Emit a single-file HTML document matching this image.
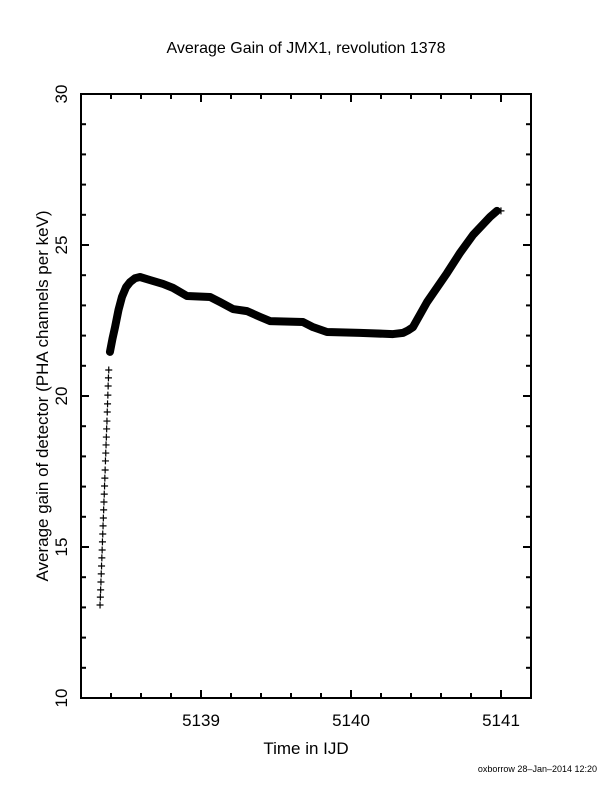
<!DOCTYPE html>
<html><head><meta charset="utf-8"><style>
body{margin:0;background:#fff}
svg text{font-family:"Liberation Sans",sans-serif;fill:#000}
</style></head><body>
<svg id="chart" width="612" height="792" xmlns="http://www.w3.org/2000/svg">
<rect width="612" height="792" fill="#fff"/>
<text x="306" y="53" font-size="16" text-anchor="middle">Average Gain of JMX1, revolution 1378</text>
<text x="0" y="0" font-size="17" text-anchor="middle" transform="translate(48,396) rotate(-90)">Average gain of detector (PHA channels per keV)</text>
<text x="306" y="754" font-size="17" text-anchor="middle">Time in IJD</text>
<text x="597" y="772" font-size="9" text-anchor="end">oxborrow 28–Jan–2014 12:20</text>
<g id="axes"></g>
<g id="marks"></g>
</svg>
<script>
const xTicks=[5139,5140,5141];
const yTicks=[10,15,20,25,30];
const sparseX=[5138.327,5138.329,5138.331,5138.333,5138.335,5138.337,5138.339,5138.341,5138.343,5138.345,5138.347,5138.349,5138.351,5138.353,5138.355,5138.357,5138.359,5138.361,5138.363,5138.365,5138.367,5138.369,5138.371,5138.373,5138.375,5138.377,5138.379,5138.381,5138.383,5138.385];
const sparseY=[13.08,13.34,13.58,13.84,14.11,14.37,14.64,14.90,15.17,15.43,15.70,15.96,16.23,16.49,16.75,17.02,17.28,17.55,17.85,18.11,18.38,18.64,18.91,19.17,19.47,19.74,20.03,20.33,20.60,20.86];
const denseX=[5138.393,5138.41,5138.427,5138.45,5138.473,5138.5,5138.527,5138.56,5138.593,5138.66,5138.747,5138.813,5138.907,5139.06,5139.127,5139.213,5139.307,5139.393,5139.46,5139.68,5139.747,5139.84,5140.06,5140.28,5140.347,5140.38,5140.413,5140.507,5140.64,5140.727,5140.813,5140.927,5140.973];
const denseY=[21.46,21.9,22.28,22.85,23.28,23.6,23.77,23.9,23.94,23.84,23.71,23.58,23.31,23.28,23.11,22.88,22.81,22.62,22.48,22.45,22.28,22.12,22.09,22.05,22.09,22.17,22.28,23.11,24.07,24.74,25.33,25.93,26.13];
const L=81,R=531,T=94,B=698,X0=5138.2,X1=5141.2,Y0=10,Y1=30;
const sx=v=>L+(v-X0)/(X1-X0)*(R-L);
const sy=v=>B-(v-Y0)/(Y1-Y0)*(B-T);
const NS="http://www.w3.org/2000/svg";
const ax=document.getElementById('axes'),mk=document.getElementById('marks');
function mkEl(t,a,p){const e=document.createElementNS(NS,t);for(const k in a)e.setAttribute(k,a[k]);p.appendChild(e);return e;}
const fr=mkEl('rect',{x:L,y:T,width:R-L,height:B-T,fill:'none',stroke:'#000','stroke-width':2},ax);


for(let i=0;i<=15;i++){const v=X0+i*0.2;const x=sx(v);const major=xTicks.some(t=>Math.abs(t-v)<1e-6);const len=major?8:5;
const t1=mkEl('line',{x1:x,y1:B,x2:x,y2:B-len,stroke:'#000','stroke-width':2},ax);


const t2=mkEl('line',{x1:x,y1:T,x2:x,y2:T+len,stroke:'#000','stroke-width':2},ax);

}
xTicks.forEach(v=>{const t=mkEl('text',{x:sx(v),y:B+28,'font-size':17,'text-anchor':'middle'},ax);t.textContent=v;

});
for(let v=Y0;v<=Y1;v++){const y=sy(v);const major=yTicks.includes(v);const len=major?8:5;
const t1=mkEl('line',{x1:L,y1:y,x2:L+len,y2:y,stroke:'#000','stroke-width':2},ax);


const t2=mkEl('line',{x1:R,y1:y,x2:R-len,y2:y,stroke:'#000','stroke-width':2},ax);

}
yTicks.forEach(v=>{const t=mkEl('text',{x:0,y:0,'font-size':17,'text-anchor':'middle',transform:`translate(${L-14},${sy(v)}) rotate(-90)`},ax);t.textContent=v;

});
const pts=denseX.map((x,i)=>sx(x)+','+sy(denseY[i])).join(' ');
const pl=mkEl('polyline',{points:pts,fill:'none',stroke:'#000','stroke-width':8,'stroke-linejoin':'round','stroke-linecap':'round'},mk);


function cross(x,y,name){const g=mkEl('path',{d:`M${x-3.5},${y}H${x+3.5}M${x},${y-3.5}V${y+3.5}`,stroke:'#000','stroke-width':1.2,fill:'none'},mk);

}
sparseX.forEach((x,i)=>cross(sx(x),sy(sparseY[i]),'gain-point'));
denseX.forEach((x,i)=>cross(sx(x),sy(denseY[i]),'gain-point'));
cross(sx(denseX[denseX.length-1])+4,sy(denseY[denseY.length-1]),'gain-point-end');
</script>
</body></html>
